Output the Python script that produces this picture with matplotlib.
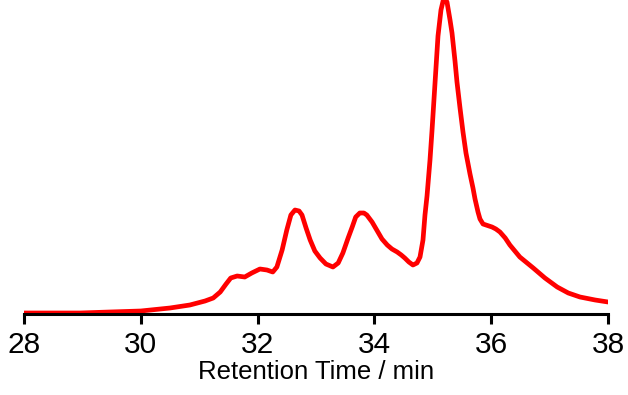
import numpy as np
import matplotlib.pyplot as plt

plt.rcParams['font.family'] = ['Liberation Sans', 'DejaVu Sans']

# retention time (min) and detector signal (arb. units)
time = [28.00, 28.96, 29.47, 30.00, 30.50, 30.84, 31.10, 31.24, 31.36, 31.46, 31.54, 31.65,
        31.78, 31.90, 32.04, 32.16, 32.26, 32.33, 32.42, 32.50, 32.57, 32.64, 32.71, 32.76,
        32.83, 32.90, 32.98, 33.07, 33.17, 33.29, 33.38, 33.46, 33.55, 33.62, 33.68, 33.75,
        33.82, 33.87, 33.96, 34.04, 34.13, 34.22, 34.30, 34.39, 34.46, 34.52, 34.59, 34.66,
        34.729, 34.781, 34.832, 34.866, 34.901, 34.952, 34.986, 35.038, 35.089, 35.140,
        35.192, 35.243, 35.295, 35.329, 35.380, 35.414, 35.466, 35.517, 35.568, 35.637,
        35.688, 35.723, 35.774, 35.808, 35.860, 35.911, 35.962, 36.014, 36.08, 36.15,
        36.24, 36.32, 36.49, 36.72, 36.92, 37.13, 37.32, 37.52, 37.78, 38.00]
signal = [1, 1, 2, 3, 6, 9, 13, 16, 22, 30, 36, 38,
          37, 41, 45, 44, 42, 47, 64, 84, 99, 104, 103, 99,
          86, 74, 63, 56, 50, 47, 51, 61, 76, 87, 97, 101,
          101, 99, 92, 84, 75, 69, 65, 62, 59, 56, 52, 49,
          51, 57, 74, 99, 118, 154, 183, 231, 278, 304,
          317, 312, 294, 281, 253, 232, 206, 182, 161, 140,
          126, 115, 102, 95, 90, 89, 88, 87, 85, 82,
          76, 69, 57, 46, 36, 27, 21, 17, 14, 12]

fig = plt.figure(figsize=(6.28, 3.95), dpi=100)
ax = fig.add_axes([24 / 628, 81 / 395, 584 / 628, 314 / 395])
ax.plot(time, signal, color='#ff0000', lw=3.4, solid_joinstyle='round', solid_capstyle='round')

ax.set_xlim(28, 38)
ax.set_ylim(0, 314)
ax.set_xticks(np.arange(28, 39, 2))
ax.set_yticks([])
for s in ['left', 'right', 'top']:
    ax.spines[s].set_visible(False)
ax.spines['bottom'].set_linewidth(2.2)
ax.tick_params(axis='x', direction='out', length=7, width=2.2, labelsize=21.5, pad=5)
ax.set_xlabel('Retention Time / min', fontsize=18.5, labelpad=1)

fig.savefig('out.png', dpi=100)
